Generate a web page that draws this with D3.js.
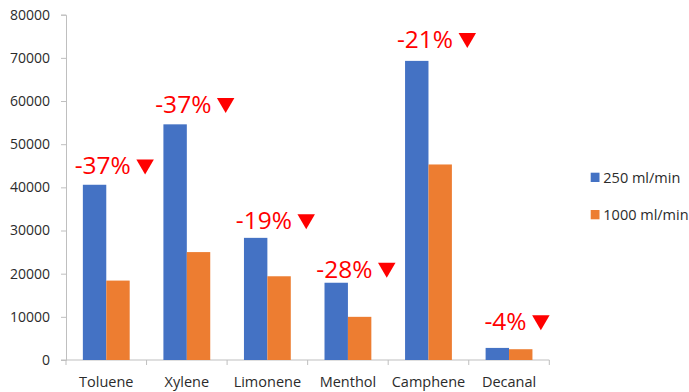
<!DOCTYPE html>
<html>
<head>
<meta charset="utf-8">
<script src="https://cdn.jsdelivr.net/npm/d3@7"></script>
<style>
  body { margin: 0; background: #fff; }
  text { font-family: "Open Sans", sans-serif; }
</style>
</head>
<body>
<div id="chart"></div>
<script>
// data
const compounds = ["Toluene", "Xylene", "Limonene", "Menthol", "Camphene", "Decanal"];
const flow250 = [40600, 54600, 28300, 17900, 69300, 2800];
const flow1000 = [18400, 25000, 19400, 10000, 45300, 2500];
const changeLabels = ["-37%", "-37%", "-19%", "-28%", "-21%", "-4%"];
// value level where each label's baseline sits
const labelLevels = [43000, 57200, 30300, 19050, 72300, 6900];
const seriesNames = ["250 ml/min", "1000 ml/min"];
const yTicks = [0, 10000, 20000, 30000, 40000, 50000, 60000, 70000, 80000];

const width = 689, height = 392;
const margin = { top: 14.7, left: 66, right: 140, bottom: 32 };
const colors = ["#4472C4", "#ED7D31"];
const axisColor = "#bfbfbf";
const textColor = "#2b2b2b";

const svg = d3.select("#chart").append("svg")
  .attr("width", width)
  .attr("height", height);

const x = d3.scaleBand()
  .domain(compounds)
  .range([margin.left, 549.3]);

const y = d3.scaleLinear()
  .domain([0, 80000])
  .range([height - margin.bottom, margin.top]);

// two bars inside each band
const x1 = d3.scaleBand()
  .domain([0, 1])
  .range([0, x.bandwidth()])
  .paddingOuter(0.72)
  .paddingInner(0);

const rows = compounds.map((c, i) => ({ name: c, vals: [flow250[i], flow1000[i]], label: changeLabels[i], level: labelLevels[i] }));

// y axis
const yAxis = svg.append("g")
  .attr("transform", `translate(${margin.left},0)`)
  .call(d3.axisLeft(y).tickValues(yTicks).tickSize(5).tickPadding(11).tickFormat(d3.format("d")));
yAxis.select(".domain").attr("stroke", axisColor);
yAxis.selectAll(".tick line").attr("stroke", axisColor);
yAxis.selectAll(".tick text").attr("font-size", 14).attr("fill", textColor).attr("font-family", "Open Sans");

// x axis, ticks at the category boundaries
const xAxisG = svg.append("g")
  .attr("transform", `translate(0,${y(0)})`);
xAxisG.append("line")
  .attr("x1", margin.left - 5).attr("x2", x.range()[1])
  .attr("stroke", axisColor);
xAxisG.selectAll("line.sep")
  .data(compounds.concat(["end"]))
  .join("line")
  .attr("class", "sep")
  .attr("x1", (d, i) => margin.left + i * x.step())
  .attr("x2", (d, i) => margin.left + i * x.step())
  .attr("y1", 0).attr("y2", 5)
  .attr("stroke", axisColor);
xAxisG.selectAll("text")
  .data(compounds)
  .join("text")
  .attr("x", d => x(d) + x.bandwidth() / 2)
  .attr("y", 26.5)
  .attr("text-anchor", "middle")
  .attr("font-size", 14.5)
  .attr("fill", textColor)
  .text(d => d);

// bars
const groups = svg.selectAll("g.grp")
  .data(rows)
  .join("g")
  .attr("class", "grp")
  .attr("transform", d => `translate(${x(d.name)},0)`);

groups.selectAll("rect")
  .data(d => d.vals)
  .join("rect")
  .attr("x", (d, i) => x1(i))
  .attr("width", x1.bandwidth())
  .attr("y", d => y(d))
  .attr("height", d => y(0) - y(d))
  .attr("fill", (d, i) => colors[i]);

// red change labels with a down triangle
const ann = groups.append("g")
  .attr("class", "ann");
ann.append("text")
  .attr("font-size", 24.5)
  .attr("fill", "#ff0000")
  .attr("y", d => y(d.level))
  .text(d => d.label);
ann.each(function (d) {
  const g = d3.select(this);
  const tw = g.select("text").node().getComputedTextLength();
  const triW = 17.5, triH = 15, gap = 5.5;
  const total = tw + gap + triW;
  const left = x.bandwidth() / 2 + 8 - total / 2;
  const base = y(d.level);
  g.select("text").attr("x", left);
  const tx = left + tw + gap;
  g.append("path")
    .attr("d", `M${tx},${base - triH} L${tx + triW},${base - triH} L${tx + triW / 2},${base} Z`)
    .attr("fill", "#ff0000");
});

// legend
const legend = svg.selectAll("g.leg")
  .data(seriesNames)
  .join("g")
  .attr("class", "leg")
  .attr("transform", (d, i) => `translate(590.7,${172.7 + i * 37.3})`);
legend.append("rect")
  .attr("width", 8.8).attr("height", 9.3)
  .attr("fill", (d, i) => colors[i]);
legend.append("text")
  .attr("x", 12.6)
  .attr("y", 10.3)
  .attr("font-size", 14.5)
  .attr("fill", textColor)
  .text(d => d);
</script>
</body>
</html>
